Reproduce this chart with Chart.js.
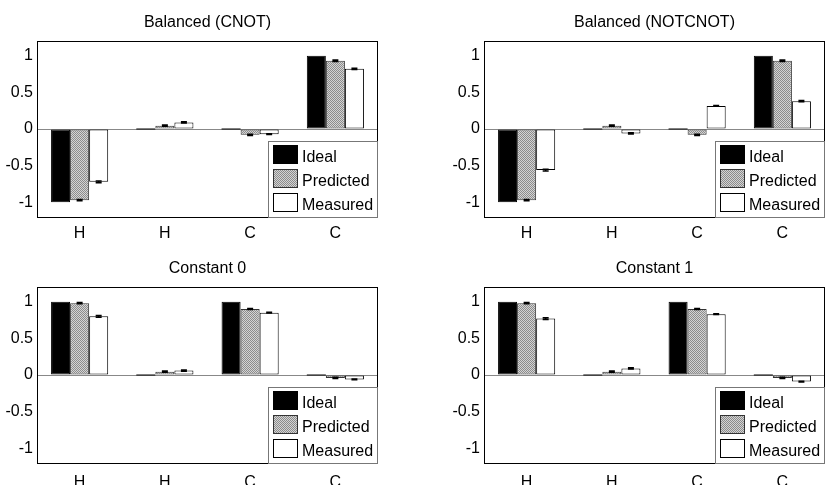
<!DOCTYPE html>
<html>
<head>
<meta charset="utf-8">
<script src="https://cdn.jsdelivr.net/npm/chart.js@4/dist/chart.umd.min.js"></script>
<style>
  body { margin: 0; background: #fff; }
  #wrap { position: relative; width: 828px; height: 485px; overflow: hidden; }
  #wrap canvas { position: absolute; left: 0; top: 0; }
</style>
</head>
<body>
<div id="wrap">
  <canvas id="cnot" width="828" height="510"></canvas>
  <canvas id="notcnot" width="828" height="510"></canvas>
  <canvas id="const0" width="828" height="510"></canvas>
  <canvas id="const1" width="828" height="510"></canvas>
</div>
<script>
// data
const categories = ['H', 'H', 'C', 'C'];
const seriesNames = ['Ideal', 'Predicted', 'Measured'];
const yTicks = [-1, -0.5, 0, 0.5, 1];

const idealCnot = [-1, 0, 0, 1];
const predictedCnot = [-0.97, 0.045, -0.08, 0.93];
const measuredCnot = [-0.72, 0.09, -0.07, 0.82];
const predictedErrCnot = [0.01, 0.008, 0.01, 0.01];
const measuredErrCnot = [0.012, 0.008, 0.006, 0.008];

const idealNotcnot = [-1, 0, 0, 1];
const predictedNotcnot = [-0.97, 0.045, -0.08, 0.93];
const measuredNotcnot = [-0.56, -0.06, 0.315, 0.38];
const predictedErrNotcnot = [0.01, 0.008, 0.01, 0.01];
const measuredErrNotcnot = [0.012, 0.008, 0.006, 0.008];

const idealConst0 = [1, 0, 1, 0];
const predictedConst0 = [0.98, 0.045, 0.90, -0.04];
const measuredConst0 = [0.80, 0.06, 0.85, -0.06];
const predictedErrConst0 = [0.01, 0.008, 0.006, 0.008];
const measuredErrConst0 = [0.012, 0.008, 0.006, 0.006];

const idealConst1 = [1, 0, 1, 0];
const predictedConst1 = [0.98, 0.045, 0.90, -0.04];
const measuredConst1 = [0.77, 0.09, 0.83, -0.09];
const predictedErrConst1 = [0.01, 0.008, 0.006, 0.008];
const measuredErrConst1 = [0.012, 0.008, 0.006, 0.006];

const CANVAS_H = 510;

Chart.defaults.font.family = '"Liberation Sans", Arial, Helvetica, sans-serif';
Chart.defaults.font.size = 16;
Chart.defaults.color = '#000';

// fine grey checker used for the "Predicted" bars
const makeHatch = () => {
    const c = document.createElement('canvas');
    c.width = 2; c.height = 2;
    const g = c.getContext('2d');
    g.fillStyle = '#d4d4d4'; g.fillRect(0, 0, 2, 2);
    g.fillStyle = '#8c8c8c'; g.fillRect(0, 0, 1, 1); g.fillRect(1, 1, 1, 1);
    return g.createPattern(c, 'repeat');
};
const hatch = makeHatch();

const fills = ['#000', hatch, '#fff'];
const borders = ['#000', '#333', '#000'];

const frameAndExtras = {
    id: 'frameAndExtras',
    afterDatasetsDraw(chart) {
        const ctx = chart.ctx;
        const y = chart.scales.y;
        chart.data.datasets.forEach((ds, di) => {
            const meta = chart.getDatasetMeta(di);
            meta.data.forEach((bar, i) => {
                const v = ds.data[i];
                ctx.save();
                ctx.strokeStyle = '#000';
                if (v === 0) {
                    // flat bar: show it as a short dark line on the axis
                    const y0 = y.getPixelForValue(0);
                    ctx.lineWidth = 1;
                    ctx.beginPath();
                    ctx.moveTo(bar.x - bar.width / 2, y0); ctx.lineTo(bar.x + bar.width / 2, y0);
                    ctx.stroke();
                }
                if (ds.errors) {
                    const e = ds.errors[i];
                    const y1 = y.getPixelForValue(v - e), y2 = y.getPixelForValue(v + e);
                    ctx.lineWidth = 1.5;
                    ctx.beginPath();
                    ctx.moveTo(bar.x, y1); ctx.lineTo(bar.x, y2);
                    ctx.moveTo(bar.x - 3, y1); ctx.lineTo(bar.x + 3, y1);
                    ctx.moveTo(bar.x - 3, y2); ctx.lineTo(bar.x + 3, y2);
                    ctx.stroke();
                }
                ctx.restore();
            });
        });
    },
    afterDraw(chart) {
        const ctx = chart.ctx;
        const a = chart.chartArea;
        ctx.save();
        // box around the plot
        ctx.strokeStyle = '#000';
        ctx.lineWidth = 1;
        ctx.strokeRect(a.left + 0.5, a.top + 0.5, a.right - a.left - 1, a.bottom - a.top);
        // title
        ctx.fillStyle = '#000';
        ctx.font = '16px "Liberation Sans", Arial, sans-serif';
        ctx.textAlign = 'center';
        ctx.textBaseline = 'alphabetic';
        ctx.fillText(chart.options.panelTitle, (a.left + a.right) / 2, a.top - 14);
        // legend box in the lower right corner
        const w = 110, h = 77;
        const lx = a.right - w, ly = a.bottom - h + 1;
        ctx.fillStyle = '#fff';
        ctx.fillRect(lx, ly, w, h);
        ctx.strokeStyle = '#777';
        ctx.strokeRect(lx + 0.5, ly + 0.5, w - 1, h - 1);
        ctx.textAlign = 'left';
        chart.data.datasets.forEach((ds, i) => {
            const sy = ly + 4 + i * 24;
            ctx.fillStyle = ds.backgroundColor;
            ctx.fillRect(lx + 5, sy, 25, 19);
            ctx.strokeStyle = ds.borderColor;
            ctx.strokeRect(lx + 5.5, sy + 0.5, 24, 18);
            ctx.fillStyle = '#000';
            ctx.fillText(ds.label, lx + 34, sy + 17);
        });
        ctx.restore();
    }
};

const makePanel = (id, title, series, errs, box) => {
    const yw = 37, xh = 40;
    const datasets = series.map((vals, i) => ({
        label: seriesNames[i],
        data: vals,
        errors: errs[i],
        backgroundColor: fills[i],
        borderColor: borders[i],
        borderWidth: 1,
        borderSkipped: false,
        categoryPercentage: 0.67,
        barPercentage: 1
    }));
    new Chart(document.getElementById(id), {
        type: 'bar',
        data: { labels: categories, datasets: datasets },
        plugins: [frameAndExtras],
        options: {
            panelTitle: title,
            responsive: false,
            animation: false,
            events: [],
            layout: {
                padding: {
                    left: box.left - yw,
                    top: box.top,
                    right: 828 - box.right,
                    bottom: CANVAS_H - box.bottom - xh
                }
            },
            plugins: { legend: { display: false }, tooltip: { enabled: false } },
            scales: {
                x: {
                    grid: { display: false },
                    border: { display: false },
                    ticks: { padding: box.labelPad, font: { size: 16 } },
                    afterFit: (s) => { s.height = xh; }
                },
                y: {
                    min: -1.2,
                    max: 1.2,
                    border: { display: false },
                    grid: {
                        drawTicks: false,
                        color: (c) => (c.tick && c.tick.value === 0 ? '#888' : 'rgba(0,0,0,0)')
                    },
                    afterBuildTicks: (s) => { s.ticks = yTicks.map(v => ({ value: v })); },
                    ticks: { padding: 4, font: { size: 16 }, callback: (v) => String(v) },
                    afterFit: (s) => { s.width = yw; }
                }
            }
        }
    });
};

makePanel('cnot', 'Balanced (CNOT)',
    [idealCnot, predictedCnot, measuredCnot], [null, predictedErrCnot, measuredErrCnot],
    { left: 37, top: 41, right: 378, bottom: 217, labelPad: -1 });
makePanel('notcnot', 'Balanced (NOTCNOT)',
    [idealNotcnot, predictedNotcnot, measuredNotcnot], [null, predictedErrNotcnot, measuredErrNotcnot],
    { left: 484, top: 41, right: 825, bottom: 217, labelPad: -1 });
makePanel('const0', 'Constant 0',
    [idealConst0, predictedConst0, measuredConst0], [null, predictedErrConst0, measuredErrConst0],
    { left: 37, top: 287, right: 378, bottom: 463, labelPad: 2 });
makePanel('const1', 'Constant 1',
    [idealConst1, predictedConst1, measuredConst1], [null, predictedErrConst1, measuredErrConst1],
    { left: 484, top: 287, right: 825, bottom: 463, labelPad: 2 });
</script>
</body>
</html>
